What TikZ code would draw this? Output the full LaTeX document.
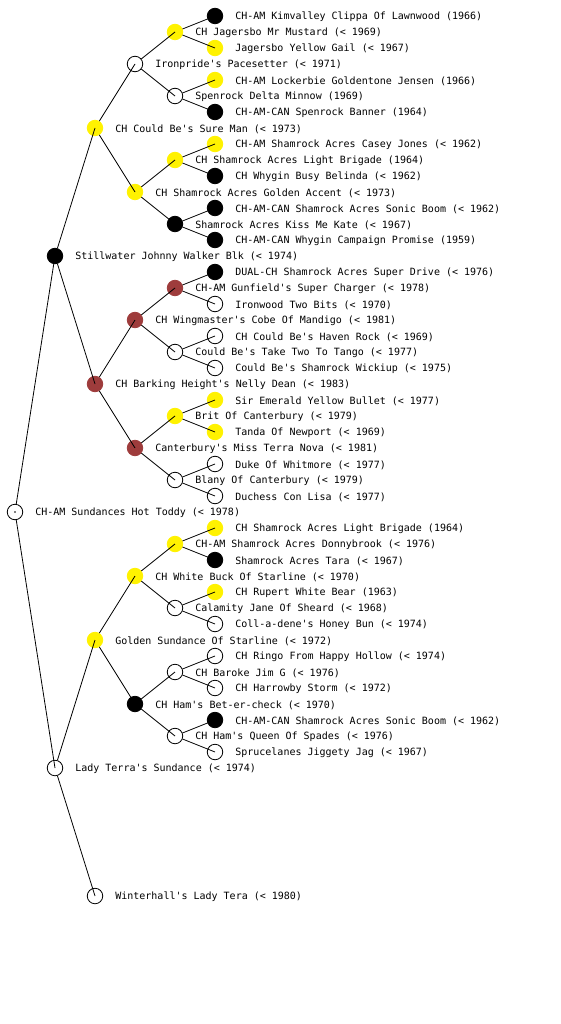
\documentclass[tikz,border=0pt]{standalone}
\usepackage{fontspec}
\setmonofont{DejaVu Sans Mono}
\usepackage{xcolor}
\usepackage{tikz}
\usetikzlibrary{positioning}
\definecolor{coatbrown}{RGB}{158,60,60}

\begin{document}
\begin{tikzpicture}[
    x=1pt, y=-1pt,
    node distance=12pt,
    dog/.style={circle, draw, line width=0.8pt, minimum size=15.5pt, inner sep=0pt},
    wht/.style={dog, fill=white, draw=black},
    yel/.style={dog, fill=yellow, draw=yellow},
    blk/.style={dog, fill=black, draw=black},
    brn/.style={dog, fill=coatbrown, draw=coatbrown},
    tag/.style={inner sep=0pt, anchor=west, yshift=-1pt, font=\ttfamily\fontsize{10}{12}\selectfont},
    link/.style={line width=0.8pt}
    ]
    \useasboundingbox (0,0) rectangle (560,1024);

    % Generation 0
    \node[wht] (toddy) at (15,512) {};
    \node[tag, right=of toddy] (toddy-t) {CH-AM Sundances Hot Toddy (< 1978)};
    \fill (toddy.center) circle (0.8pt);

    % Generation 1
    \node[blk] (stillwater) at (55,256) {};
    \node[tag, right=of stillwater] (stillwater-t) {Stillwater Johnny Walker Blk (< 1974)};
    \node[wht] (ladyterra) at (55,768) {};
    \node[tag, right=of ladyterra] (ladyterra-t) {Lady Terra's Sundance (< 1974)};

    % Generation 2
    \node[yel] (sureman) at (95,128) {};
    \node[tag, right=of sureman] (sureman-t) {CH Could Be's Sure Man (< 1973)};
    \node[brn] (nellydean) at (95,384) {};
    \node[tag, right=of nellydean] (nellydean-t) {CH Barking Height's Nelly Dean (< 1983)};
    \node[yel] (goldsun) at (95,640) {};
    \node[tag, right=of goldsun] (goldsun-t) {Golden Sundance Of Starline (< 1972)};
    \node[wht] (winterhall) at (95,896) {};
    \node[tag, right=of winterhall] (winterhall-t) {Winterhall's Lady Tera (< 1980)};

    % Generation 3
    \node[wht] (ironpride) at (135,64) {};
    \node[tag, right=of ironpride] (ironpride-t) {Ironpride's Pacesetter (< 1971)};
    \node[yel] (golden) at (135,192) {};
    \node[tag, right=of golden] (golden-t) {CH Shamrock Acres Golden Accent (< 1973)};
    \node[brn] (wingmaster) at (135,320) {};
    \node[tag, right=of wingmaster] (wingmaster-t) {CH Wingmaster's Cobe Of Mandigo (< 1981)};
    \node[brn] (terranova) at (135,448) {};
    \node[tag, right=of terranova] (terranova-t) {Canterbury's Miss Terra Nova (< 1981)};
    \node[yel] (whitebuck) at (135,576) {};
    \node[tag, right=of whitebuck] (whitebuck-t) {CH White Buck Of Starline (< 1970)};
    \node[blk] (betercheck) at (135,704) {};
    \node[tag, right=of betercheck] (betercheck-t) {CH Ham's Bet-er-check (< 1970)};

    % Generation 4
    \node[yel] (mustard) at (175,32) {};
    \node[tag, right=of mustard] (mustard-t) {CH Jagersbo Mr Mustard (< 1969)};
    \node[wht] (minnow) at (175,96) {};
    \node[tag, right=of minnow] (minnow-t) {Spenrock Delta Minnow (1969)};
    \node[yel] (brigade) at (175,160) {};
    \node[tag, right=of brigade] (brigade-t) {CH Shamrock Acres Light Brigade (1964)};
    \node[blk] (katekiss) at (175,224) {};
    \node[tag, right=of katekiss] (katekiss-t) {Shamrock Acres Kiss Me Kate (< 1967)};
    \node[brn] (gunfield) at (175,288) {};
    \node[tag, right=of gunfield] (gunfield-t) {CH-AM Gunfield's Super Charger (< 1978)};
    \node[wht] (tango) at (175,352) {};
    \node[tag, right=of tango] (tango-t) {Could Be's Take Two To Tango (< 1977)};
    \node[yel] (brit) at (175,416) {};
    \node[tag, right=of brit] (brit-t) {Brit Of Canterbury (< 1979)};
    \node[wht] (blany) at (175,480) {};
    \node[tag, right=of blany] (blany-t) {Blany Of Canterbury (< 1979)};
    \node[yel] (donny) at (175,544) {};
    \node[tag, right=of donny] (donny-t) {CH-AM Shamrock Acres Donnybrook (< 1976)};
    \node[wht] (calamity) at (175,608) {};
    \node[tag, right=of calamity] (calamity-t) {Calamity Jane Of Sheard (< 1968)};
    \node[wht] (baroke) at (175,672) {};
    \node[tag, right=of baroke] (baroke-t) {CH Baroke Jim G (< 1976)};
    \node[wht] (spades) at (175,736) {};
    \node[tag, right=of spades] (spades-t) {CH Ham's Queen Of Spades (< 1976)};

    % Generation 5
    \node[blk] (kimvalley) at (215,16) {};
    \node[tag, right=of kimvalley] (kimvalley-t) {CH-AM Kimvalley Clippa Of Lawnwood (1966)};
    \node[yel] (yellowgail) at (215,48) {};
    \node[tag, right=of yellowgail] (yellowgail-t) {Jagersbo Yellow Gail (< 1967)};
    \node[yel] (jensen) at (215,80) {};
    \node[tag, right=of jensen] (jensen-t) {CH-AM Lockerbie Goldentone Jensen (1966)};
    \node[blk] (banner) at (215,112) {};
    \node[tag, right=of banner] (banner-t) {CH-AM-CAN Spenrock Banner (1964)};
    \node[yel] (casey) at (215,144) {};
    \node[tag, right=of casey] (casey-t) {CH-AM Shamrock Acres Casey Jones (< 1962)};
    \node[blk] (belinda) at (215,176) {};
    \node[tag, right=of belinda] (belinda-t) {CH Whygin Busy Belinda (< 1962)};
    \node[blk] (sonicA) at (215,208) {};
    \node[tag, right=of sonicA] (sonicA-t) {CH-AM-CAN Shamrock Acres Sonic Boom (< 1962)};
    \node[blk] (campaign) at (215,240) {};
    \node[tag, right=of campaign] (campaign-t) {CH-AM-CAN Whygin Campaign Promise (1959)};
    \node[blk] (superdrive) at (215,272) {};
    \node[tag, right=of superdrive] (superdrive-t) {DUAL-CH Shamrock Acres Super Drive (< 1976)};
    \node[wht] (ironwood) at (215,304) {};
    \node[tag, right=of ironwood] (ironwood-t) {Ironwood Two Bits (< 1970)};
    \node[wht] (havenrock) at (215,336) {};
    \node[tag, right=of havenrock] (havenrock-t) {CH Could Be's Haven Rock (< 1969)};
    \node[wht] (wickiup) at (215,368) {};
    \node[tag, right=of wickiup] (wickiup-t) {Could Be's Shamrock Wickiup (< 1975)};
    \node[yel] (bullet) at (215,400) {};
    \node[tag, right=of bullet] (bullet-t) {Sir Emerald Yellow Bullet (< 1977)};
    \node[yel] (tanda) at (215,432) {};
    \node[tag, right=of tanda] (tanda-t) {Tanda Of Newport (< 1969)};
    \node[wht] (duke) at (215,464) {};
    \node[tag, right=of duke] (duke-t) {Duke Of Whitmore (< 1977)};
    \node[wht] (duchess) at (215,496) {};
    \node[tag, right=of duchess] (duchess-t) {Duchess Con Lisa (< 1977)};
    \node[yel] (brigadeB) at (215,528) {};
    \node[tag, right=of brigadeB] (brigadeB-t) {CH Shamrock Acres Light Brigade (1964)};
    \node[blk] (tara) at (215,560) {};
    \node[tag, right=of tara] (tara-t) {Shamrock Acres Tara (< 1967)};
    \node[yel] (rupert) at (215,592) {};
    \node[tag, right=of rupert] (rupert-t) {CH Rupert White Bear (1963)};
    \node[wht] (honeybun) at (215,624) {};
    \node[tag, right=of honeybun] (honeybun-t) {Coll-a-dene's Honey Bun (< 1974)};
    \node[wht] (ringo) at (215,656) {};
    \node[tag, right=of ringo] (ringo-t) {CH Ringo From Happy Hollow (< 1974)};
    \node[wht] (harrowby) at (215,688) {};
    \node[tag, right=of harrowby] (harrowby-t) {CH Harrowby Storm (< 1972)};
    \node[blk] (sonicB) at (215,720) {};
    \node[tag, right=of sonicB] (sonicB-t) {CH-AM-CAN Shamrock Acres Sonic Boom (< 1962)};
    \node[wht] (spruce) at (215,752) {};
    \node[tag, right=of spruce] (spruce-t) {Sprucelanes Jiggety Jag (< 1967)};

    % Lines from parent to child
    \draw[link] (toddy) -- (stillwater.center);
    \draw[link] (toddy) -- (ladyterra.center);
    \draw[link] (stillwater) -- (sureman.center);
    \draw[link] (stillwater) -- (nellydean.center);
    \draw[link] (ladyterra) -- (goldsun.center);
    \draw[link] (ladyterra) -- (winterhall.center);
    \draw[link] (sureman) -- (ironpride.center);
    \draw[link] (sureman) -- (golden.center);
    \draw[link] (nellydean) -- (wingmaster.center);
    \draw[link] (nellydean) -- (terranova.center);
    \draw[link] (goldsun) -- (whitebuck.center);
    \draw[link] (goldsun) -- (betercheck.center);
    \draw[link] (ironpride) -- (mustard.center);
    \draw[link] (ironpride) -- (minnow.center);
    \draw[link] (golden) -- (brigade.center);
    \draw[link] (golden) -- (katekiss.center);
    \draw[link] (wingmaster) -- (gunfield.center);
    \draw[link] (wingmaster) -- (tango.center);
    \draw[link] (terranova) -- (brit.center);
    \draw[link] (terranova) -- (blany.center);
    \draw[link] (whitebuck) -- (donny.center);
    \draw[link] (whitebuck) -- (calamity.center);
    \draw[link] (betercheck) -- (baroke.center);
    \draw[link] (betercheck) -- (spades.center);
    \draw[link] (mustard) -- (kimvalley.center);
    \draw[link] (mustard) -- (yellowgail.center);
    \draw[link] (minnow) -- (jensen.center);
    \draw[link] (minnow) -- (banner.center);
    \draw[link] (brigade) -- (casey.center);
    \draw[link] (brigade) -- (belinda.center);
    \draw[link] (katekiss) -- (sonicA.center);
    \draw[link] (katekiss) -- (campaign.center);
    \draw[link] (gunfield) -- (superdrive.center);
    \draw[link] (gunfield) -- (ironwood.center);
    \draw[link] (tango) -- (havenrock.center);
    \draw[link] (tango) -- (wickiup.center);
    \draw[link] (brit) -- (bullet.center);
    \draw[link] (brit) -- (tanda.center);
    \draw[link] (blany) -- (duke.center);
    \draw[link] (blany) -- (duchess.center);
    \draw[link] (donny) -- (brigadeB.center);
    \draw[link] (donny) -- (tara.center);
    \draw[link] (calamity) -- (rupert.center);
    \draw[link] (calamity) -- (honeybun.center);
    \draw[link] (baroke) -- (ringo.center);
    \draw[link] (baroke) -- (harrowby.center);
    \draw[link] (spades) -- (sonicB.center);
    \draw[link] (spades) -- (spruce.center);

\end{tikzpicture}
\end{document}
